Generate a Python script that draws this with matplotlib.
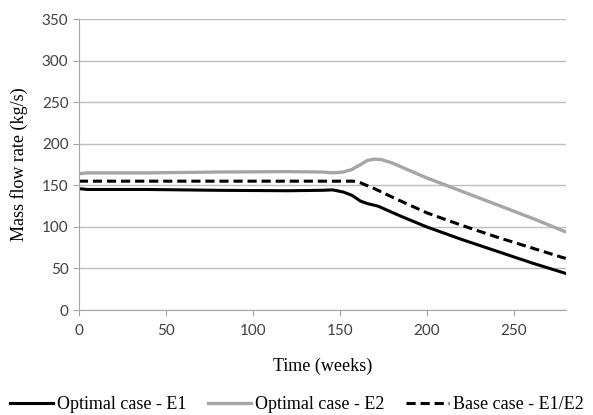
import matplotlib.pyplot as plt

# weeks and mass flow rates (kg/s)
t_e1 = [0, 5, 40, 80, 120, 140, 146, 152, 157, 162, 166, 172, 185, 200, 220, 240, 260, 280]
m_e1 = [146, 145, 145, 144, 143.5, 144, 144.5, 142, 138, 131, 128, 125, 113, 100, 85, 71, 57, 44]

t_e2 = [0, 5, 40, 80, 120, 140, 146, 152, 157, 162, 166, 170, 174, 180, 200, 220, 240, 260, 280]
m_e2 = [164, 165, 165, 166, 166.5, 166, 165, 166, 169, 175, 180, 181.5, 181, 177, 159, 143, 127, 111, 94]

t_base = [0, 40, 80, 120, 150, 158, 162, 170, 180, 200, 220, 240, 260, 280]
m_base = [155, 155, 155, 155, 155, 155, 153, 146, 136, 117, 102, 88, 75, 62]

fig = plt.figure(figsize=(5.93, 4.15), dpi=100)
ax = fig.add_axes([0.133, 0.253, 0.821, 0.701])

serif = 'Liberation Serif'
ax.plot(t_e1, m_e1, color='black', lw=2.2, label='Optimal case - E1')
ax.plot(t_e2, m_e2, color='#a6a6a6', lw=2.4, label='Optimal case - E2')
ax.plot(t_base, m_base, color='black', lw=2.2, ls=(0, (3, 1.6)), label='Base case - E1/E2')

ax.set_xlim(0, 280)
ax.set_ylim(0, 350)
ax.set_xticks(range(0, 251, 50))
ax.set_yticks(range(0, 351, 50))
ax.grid(axis='y', color='#bfbfbf', lw=1)
ax.set_axisbelow(True)
for s in ['top', 'right']:
    ax.spines[s].set_visible(False)
for s in ['left', 'bottom']:
    ax.spines[s].set_color('#a6a6a6')
ax.tick_params(axis='both', colors='#a6a6a6', length=4, labelcolor='#404040',
               labelsize=11)
for lab in ax.get_xticklabels() + ax.get_yticklabels():
    lab.set_family('Lato')
ax.tick_params(axis='x', pad=6)

ax.set_xlabel('Time (weeks)', family=serif, fontsize=13, labelpad=14)
ax.set_ylabel('Mass flow rate (kg/s)', family=serif, fontsize=13, labelpad=10)

leg = fig.legend(loc='lower center', bbox_to_anchor=(0.5, -0.035), ncol=3,
                 frameon=False, prop={'family': serif, 'size': 13},
                 handlelength=2.4, handletextpad=0.2, columnspacing=1.2)
fig.savefig('out.png', dpi=100)
